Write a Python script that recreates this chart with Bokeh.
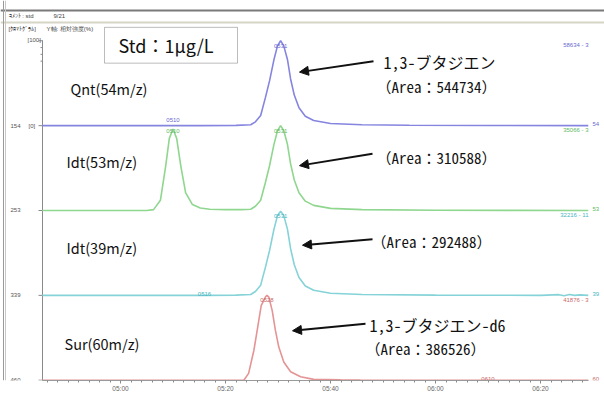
from bokeh.plotting import figure
from bokeh.models import (Range1d, LinearAxis, FixedTicker, Arrow, NormalHead,
                          Label, BoxAnnotation, Span, ColumnDataSource)
from bokeh.embed import file_html
from bokeh.resources import INLINE
from bokeh.core.properties import value

# ---------------- data ----------------
# retention-time axis (seconds) and its tick labels (mm:ss)
tick_sec = [300, 320, 340, 360, 380]
tick_labels = ["05:00", "05:20", "05:40", "06:00", "06:20"]

trace_names = ["Qnt(54m/z)", "Idt(53m/z)", "Idt(39m/z)", "Sur(60m/z)"]
trace_colors = ["#8585e0", "#8fd68f", "#85d3d8", "#e49494"]
label_colors = ["#6a6ad0", "#5fb85f", "#45b5c0", "#c86a6a"]
ion_labels = ["54", "53", "39", "60"]
scale_labels = ["58634 - 3", "35066 - 3", "32216 - 11", "41876 - 3"]
left_labels = ["154", "253", "339", "460"]

# Qnt 54 m/z (relative intensity %)
qnt54_rt = [285.1, 300, 315, 322, 324.8, 325.7, 326.7, 327.6, 328.4, 329.2, 329.9,
            330.5, 331.1, 331.8, 332.4, 333.1, 334.0, 335.2, 336.8, 340, 346, 355, 370, 389.1]
qnt54_pct = [0, 0, 0, 0.3, 1, 4.5, 12, 33, 53, 77, 94,
             100, 94, 78, 55, 36, 21, 11, 6, 2.5, 1, 0.5, 0.2, 0]

# Idt 53 m/z
idt53_rt = [285.1, 300, 305, 306.3, 307.6, 308.6, 309.3, 310.0, 310.7, 311.5, 312.4, 313.7,
            315.2, 317, 320, 323, 324.8, 325.7, 326.7, 327.6, 328.4, 329.2, 329.9, 330.5,
            331.1, 331.8, 332.4, 333.1, 334.0, 335.2, 336.8, 340, 346, 360, 389.1]
idt53_pct = [0, 0, 0, 1, 12, 52, 85, 96, 85, 52, 21, 7,
             3, 1.5, 1, 1, 1.5, 5, 12, 33, 53, 77, 94, 100,
             94, 78, 55, 36, 21, 11, 6, 2.5, 1, 0.3, 0]

# Idt 39 m/z
idt39_rt = [285.1, 300, 316, 322, 324.8, 325.7, 326.7, 327.6, 328.4, 329.2, 329.9, 330.5,
            331.1, 331.8, 332.4, 333.1, 334.0, 335.2, 336.8, 340, 346, 360, 380,
            383.5, 384.5, 385.5, 386.5, 387.5, 389.1]
idt39_pct = [0, 0, 0, 0.3, 1, 4.5, 12, 33, 53, 77, 94, 99,
             94, 78, 55, 36, 21, 11, 6, 2.5, 1, 0.3, 0,
             0.8, -0.5, 1, 0, 0.6, 0]

# Sur 60 m/z
sur60_rt = [285.1, 300, 320, 323.5, 324.4, 325.4, 326.15, 326.8, 327.6, 327.9, 328.25,
            328.9, 329.5, 330.15, 331.1, 332.4, 334.3, 336.8, 341.9, 345.7, 360, 389.1]
sur60_pct = [0, 0, 0, 0, 8, 35, 63, 88, 98, 100, 98,
             82, 59, 39, 21.5, 10, 4, 1, 0.5, 0.3, 0, 0]

# peak-top retention-time labels
peak_tag_trace = [0, 0, 1, 1, 2, 2, 3, 3]
peak_tag_rt = [310, 330.5, 310, 330.5, 330.5, 316, 327.9, 370]
peak_tag_text = ["0510", "0531", "0510", "0531", "0531", "0516", "0528", "0610"]

compound_texts = ["1,3-ブタジエン", "1,3-ブタジエン-d6"]
area_texts = ["（Area：544734）", "（Area：310588）", "（Area：292488）", "（Area：386526）"]

all_rt = [qnt54_rt, idt53_rt, idt39_rt, sur60_rt]
all_pct = [qnt54_pct, idt53_pct, idt39_pct, sur60_pct]
stack_offset = [300, 200, 100, 0]   # each trace drawn in its own 100-unit band

# ---------------- layout helpers (reference pixel -> data units) ----------------
def sx(X):
    return 300 + (X - 120) / 5.25

def uy(Y):
    return (381.7 - Y) / 0.853

W, H = 604, 394
BOTTOM = 12
p = figure(width=W, height=H, output_backend="svg", toolbar_location=None,
           x_axis_type=None, y_axis_type=None,
           x_range=Range1d(sx(0), sx(W)), y_range=Range1d(uy(H - BOTTOM), uy(0)),
           min_border_left=0, min_border_right=0, min_border_top=0, min_border_bottom=BOTTOM,
           background_fill_color="white", border_fill_color="white")
p.outline_line_color = None
p.grid.visible = False

# x axis (retention time)
xaxis = LinearAxis(bounds=(sx(42), sx(588)),
                   ticker=FixedTicker(ticks=tick_sec, minor_ticks=list(range(286, 390, 2))),
                   major_label_overrides={t: l for t, l in zip(tick_sec, tick_labels)})
xaxis.axis_line_color = "#9a9a9a"
xaxis.major_tick_line_color = "#8a8a8a"
xaxis.minor_tick_line_color = "#8a8a8a"
xaxis.major_tick_out = 3
xaxis.major_tick_in = 0
xaxis.minor_tick_out = 2
xaxis.minor_tick_in = 0
xaxis.major_label_standoff = 1
xaxis.major_label_text_font_size = "6.5px"
xaxis.major_label_text_color = "#666666"
p.add_layout(xaxis, "below")

# window decorations
p.add_layout(Span(location=uy(10), dimension="width", line_color="#7a7a7a", line_width=2))
p.add_layout(Span(location=uy(22), dimension="width", line_color="#d6d6c6", line_width=2))
p.add_layout(Span(location=sx(3), dimension="height", line_color="#9a9a9a", line_width=1))
p.add_layout(Span(location=sx(5), dimension="height", line_color="#c8c8c8", line_width=1))

# left intensity axis line and ticks
p.segment(x0=[sx(42)], y0=[uy(40)], x1=[sx(42)], y1=[uy(382.5)], line_color="#8a8a8a", line_width=1)
tick_levels = [400] + stack_offset
p.segment(x0=[sx(38)] * len(tick_levels), y0=tick_levels,
          x1=[sx(42)] * len(tick_levels), y1=tick_levels, line_color="#8a8a8a", line_width=1)
minor_levels = [392, 384, 376]
p.segment(x0=[sx(40)] * 3, y0=minor_levels, x1=[sx(42)] * 3, y1=minor_levels,
          line_color="#8a8a8a", line_width=1)

small = dict(text_font=value("Liberation Sans"), text_font_size="6px", text_baseline="middle")
p.text(x=[sx(8)], y=[uy(16)], text=["ｺﾒﾝﾄ : std"], text_color="#444444", **small)
p.text(x=[sx(53)], y=[uy(16)], text=["9/21"], text_color="#444444", **small)
p.text(x=[sx(8)], y=[uy(29)], text=["[ｸﾛﾏﾄｸﾞﾗﾑ]"], text_color="#444444", **small)
p.text(x=[sx(46)], y=[uy(29)], text=["Y軸: 相対強度(%)"], text_color="#444444", **small)
p.text(x=[sx(27)], y=[uy(40)], text=["[100]"], text_color="#555555", **small)
p.text(x=[sx(28)], y=[uy(126)], text=["[0]"], text_color="#555555", **small)
p.text(x=[sx(10)] * 4, y=stack_offset, text=left_labels, text_color="#555555", **small)
p.add_layout(Label(x=sx(8), y=uy(390), text="RT-->", text_font="Liberation Sans",
                   text_font_size="6px", text_color="#555555", text_baseline="middle"))

# traces
for rt, pct, off, col in zip(all_rt, all_pct, stack_offset, trace_colors):
    src = ColumnDataSource(dict(x=rt, y=[v + off for v in pct]))
    p.line("x", "y", source=src, line_color=col, line_width=1.6)

# right-hand labels
p.text(x=[sx(588)] * 4, y=[o + 95 for o in stack_offset], text=scale_labels,
       text_color=label_colors, text_align="right", **small)
p.text(x=[sx(592)] * 4, y=[o + 2 for o in stack_offset], text=ion_labels,
       text_color=label_colors, **small)

# peak-top labels
tag_y = []
for ti, t in zip(peak_tag_trace, peak_tag_rt):
    rt, pct = all_rt[ti], all_pct[ti]
    j = min(range(len(rt)), key=lambda k: abs(rt[k] - t))
    tag_y.append(stack_offset[ti] + pct[j] - 6)
tag_y = [y + (7 if txt in ("0516", "0610") else 0) for y, txt in zip(tag_y, peak_tag_text)]
tag_y[0] = stack_offset[0] + 7
tag_y[2] = stack_offset[1] + 96 - 2
p.text(x=peak_tag_rt, y=tag_y, text=peak_tag_text,
       text_color=[label_colors[i] for i in peak_tag_trace], text_align="center", **small)

# Std box
p.add_layout(BoxAnnotation(left=sx(104), right=sx(237), top=uy(27), bottom=uy(63),
                           fill_alpha=0, line_color="#222222", line_width=1))
prop_font = value("Noto Sans CJK JP")
mono_font = value("'Noto Sans Mono CJK JP', 'Noto Sans CJK JP'")
p.text(x=[sx(118)], y=[uy(45)], text=["Std：1μg/L"], text_align="left",
       text_font=prop_font, text_font_size="18px", text_baseline="middle", text_color="#111111")

# trace names
p.text(x=[sx(70), sx(66), sx(66), sx(64)], y=[uy(88), uy(162), uy(248), uy(345)],
       text=trace_names, text_font=prop_font, text_font_size="14.5px",
       text_baseline="middle", text_color="#111111")

# compound / area annotations
p.text(x=[sx(383), sx(369)], y=[uy(62), uy(326)], text=compound_texts,
       text_font=mono_font, text_font_size="16px", text_baseline="middle", text_color="#111111")
p.text(x=[sx(376), sx(376), sx(371), sx(365)],
       y=[uy(86), uy(158), uy(242), uy(350)], text=area_texts,
       text_font=mono_font, text_font_size="15px", text_baseline="middle", text_color="#111111")

# arrows
arr_x0 = [sx(373), sx(372), sx(372), sx(365)]
arr_y0 = [uy(61), uy(154), uy(240), uy(325)]
arr_x1 = [sx(299), sx(299), sx(302), sx(292)]
arr_y1 = [uy(72), uy(166), uy(246), uy(332)]
for a, b, c, d in zip(arr_x0, arr_y0, arr_x1, arr_y1):
    p.add_layout(Arrow(x_start=a, y_start=b, x_end=c, y_end=d, line_width=2,
                       line_color="#111111",
                       end=NormalHead(size=9, fill_color="#111111", line_color="#111111")))

open("out.html", "w").write(file_html(p, INLINE))
